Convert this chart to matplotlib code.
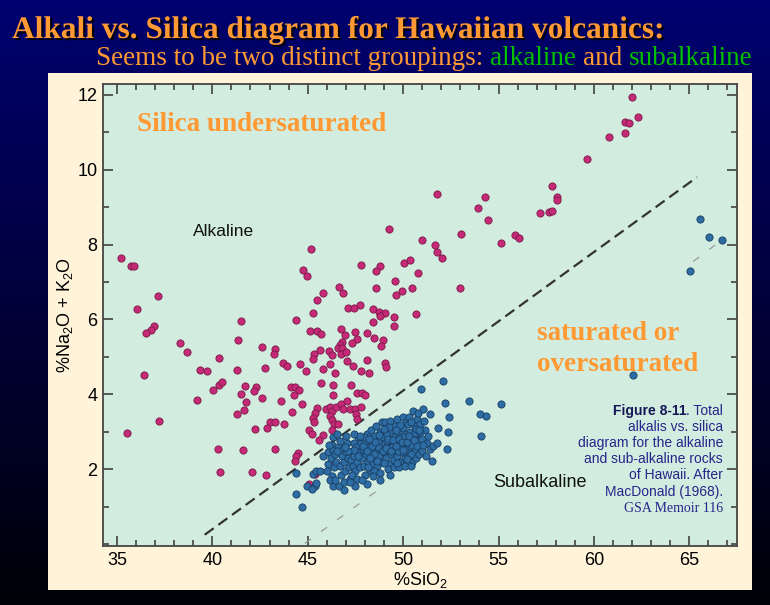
import numpy as np
import matplotlib
matplotlib.use("Agg")
import matplotlib.pyplot as plt
import matplotlib.patheffects as pe
from matplotlib.patches import Rectangle
from matplotlib.colors import LinearSegmentedColormap
from matplotlib.ticker import MultipleLocator

plt.rcParams['mathtext.fontset'] = 'custom'
plt.rcParams['mathtext.rm'] = 'Liberation Sans'
plt.rcParams['mathtext.it'] = 'Liberation Sans:italic'
plt.rcParams['mathtext.bf'] = 'Liberation Sans:bold'
plt.rcParams['font.family'] = ['Liberation Sans', 'DejaVu Sans']

# ---------------- data ----------------
alkaline_pts = [
    (35.23, 7.65), (35.75, 7.43), (35.89, 7.42), (37.15, 6.63), (36.05, 6.29), (36.92, 5.82),
    (36.80, 5.72), (36.54, 5.65), (41.51, 5.96), (38.29, 5.38), (38.69, 5.14), (41.36, 5.46),
    (42.58, 5.27), (40.36, 4.98), (39.35, 4.65), (39.72, 4.63), (41.27, 4.65), (36.43, 4.51),
    (40.36, 4.26), (40.52, 4.32), (40.05, 4.13), (41.72, 4.22), (42.27, 4.19), (42.20, 4.09),
    (41.50, 4.02), (42.58, 3.91), (39.19, 3.84), (41.76, 3.79), (41.67, 3.58), (41.29, 3.47),
    (37.22, 3.28), (42.23, 3.08), (35.54, 2.98), (40.29, 2.54), (41.60, 2.52), (40.41, 1.92),
    (42.09, 1.92),
    (45.17, 7.89), (44.77, 7.31), (44.98, 7.16), (47.79, 7.46), (48.78, 7.42), (48.58, 7.29),
    (49.57, 7.03), (46.65, 6.88), (46.83, 6.70), (45.81, 6.70), (45.50, 6.51), (48.56, 6.84),
    (49.61, 6.65), (45.29, 6.17), (44.36, 5.99), (47.09, 6.30), (47.40, 6.31), (47.75, 6.40),
    (48.40, 6.27), (48.73, 6.21), (49.05, 6.18), (48.80, 6.09), (48.40, 5.94), (49.54, 6.06),
    (49.54, 5.82), (45.13, 5.70), (45.50, 5.70), (45.67, 5.61), (46.72, 5.74), (46.93, 5.59),
    (47.47, 5.67), (47.56, 5.48), (48.09, 5.63), (48.45, 5.50), (48.94, 5.46), (48.84, 5.30),
    (47.33, 5.36), (46.81, 5.40), (46.71, 5.32), (46.57, 5.24), (46.81, 5.25), (46.74, 5.07),
    (46.99, 5.12), (46.13, 5.15), (46.27, 5.04), (45.62, 5.19), (45.34, 5.09), (45.27, 4.94),
    (43.28, 5.20), (43.21, 5.09), (43.70, 4.83), (43.89, 4.75), (44.59, 4.80), (44.89, 4.62),
    (42.74, 4.70), (45.78, 4.68), (46.18, 4.81), (46.43, 4.58), (47.05, 4.89), (47.39, 4.76),
    (48.09, 4.93), (47.77, 4.63), (48.23, 4.57), (49.05, 4.84), (49.10, 4.72), (45.68, 4.30),
    (46.30, 4.25), (47.26, 4.26), (44.10, 4.20), (44.33, 4.21), (44.56, 4.11), (44.26, 3.97),
    (46.30, 3.98), (47.56, 4.03), (47.82, 4.03), (48.00, 3.99), (43.61, 3.82), (44.68, 3.73),
    (44.19, 3.54), (45.48, 3.64), (45.38, 3.51), (45.29, 3.38), (45.34, 3.27), (45.95, 3.62),
    (46.16, 3.66), (46.29, 3.56), (46.50, 3.67), (46.74, 3.73), (46.83, 3.60), (47.07, 3.82),
    (47.21, 3.60), (47.47, 3.60), (47.54, 3.47), (47.79, 3.66), (47.56, 3.33), (46.16, 3.42),
    (46.29, 3.31), (46.39, 3.22), (46.60, 3.22), (43.02, 3.27), (43.28, 3.27), (43.74, 3.22),
    (42.88, 3.09), (45.08, 3.05), (46.25, 3.06),
    (43.30, 2.53), (45.82, 2.91), (45.60, 2.79), (44.47, 2.44), (44.38, 2.35), (45.25, 2.95),
    (44.33, 2.21), (42.79, 1.85), (45.38, 1.86), (45.06, 1.61), (46.22, 2.13),
    (61.99, 11.94), (62.29, 11.41), (61.62, 11.27), (61.85, 11.25), (61.62, 10.98), (60.80, 10.87),
    (59.65, 10.28), (57.78, 9.57), (58.08, 9.27), (58.08, 9.20), (57.17, 8.85), (57.64, 8.87),
    (57.82, 8.90), (51.75, 9.36), (54.29, 9.27), (53.94, 8.99), (54.43, 8.65), (53.05, 8.28),
    (55.89, 8.27), (56.09, 8.19), (55.11, 8.03), (51.00, 8.12), (51.65, 7.99), (51.75, 7.79),
    (52.05, 7.65), (50.04, 7.50), (50.36, 7.58), (50.76, 7.24), (49.92, 6.75), (50.46, 6.85),
    (52.98, 6.84), (49.27, 8.43), (50.67, 6.15),
]

subalkaline_pts = [
    (44.38, 1.90), (44.36, 1.34), (44.71, 0.98), (44.94, 1.54), (45.38, 1.54), (45.41, 1.63),
    (45.29, 1.86), (45.46, 1.95), (45.64, 1.95), (45.81, 2.35), (46.08, 2.13), (45.99, 1.95),
    (46.25, 1.81), (46.34, 1.54), (46.25, 2.66), (45.24, 1.48),
    (46.05, 2.45), (46.2, 2.3), (46.35, 2.52), (46.4, 2.05), (46.5, 2.2), (46.15, 1.7),
    (46.45, 1.72), (46.3, 2.85), (46.55, 2.95), (46.6, 2.6), (46.1, 2.65), (46.45, 2.4),
    (46.7, 2.1), (46.75, 1.85), (46.8, 2.35), (46.85, 2.55), (46.9, 2.2), (46.95, 1.95),
    (47.0, 2.45), (47.05, 2.7), (47.1, 2.3), (47.15, 2.05), (46.65, 1.55), (46.9, 1.65),
    (47.2, 1.75), (47.0, 2.9), (46.7, 2.75), (46.9, 1.45),
    (47.25, 2.25), (47.3, 2.5), (47.35, 2.1), (47.4, 2.7), (47.45, 2.35), (47.5, 1.95),
    (47.55, 2.6), (47.6, 2.2), (47.65, 2.85), (47.7, 2.45), (47.75, 2.05), (47.3, 1.85),
    (47.6, 1.75), (47.8, 2.7), (47.4, 2.95), (47.5, 1.55), (47.2, 1.65),
    (47.85, 2.3), (47.9, 2.55), (47.95, 2.1), (48.0, 2.75), (48.05, 2.4), (48.1, 2.95),
    (48.15, 2.2), (48.2, 2.6), (48.25, 1.95), (48.3, 2.8), (48.35, 2.45), (48.4, 2.15),
    (48.0, 1.85), (48.3, 3.05), (48.15, 2.05), (47.95, 2.85), (48.1, 1.6),
    (48.45, 2.65), (48.5, 2.3), (48.55, 2.9), (48.6, 2.5), (48.65, 2.1), (48.7, 2.75),
    (48.75, 2.35), (48.8, 3.0), (48.85, 2.55), (48.9, 2.2), (48.95, 2.85), (48.5, 1.95),
    (48.8, 1.9), (48.6, 3.15), (48.45, 2.4), (48.9, 3.25), (48.7, 2.6), (48.8, 1.72),
    (49.0, 2.45), (49.05, 2.7), (49.1, 2.3), (49.15, 2.95), (49.2, 2.55), (49.25, 2.15),
    (49.3, 2.8), (49.35, 2.4), (49.4, 3.05), (49.45, 2.65), (49.5, 2.25), (49.55, 2.9),
    (49.6, 2.5), (49.05, 3.25), (49.3, 3.3), (49.2, 2.0), (49.5, 2.05), (49.4, 2.6),
    (49.15, 2.75), (49.55, 3.15), (49.3, 1.85),
    (49.65, 2.75), (49.7, 2.35), (49.75, 3.0), (49.8, 2.6), (49.85, 2.2), (49.9, 2.85),
    (49.95, 2.45), (50.0, 3.1), (50.05, 2.7), (50.1, 2.3), (50.15, 2.95), (50.2, 2.55),
    (49.7, 3.35), (50.0, 3.4), (49.8, 2.05), (50.1, 2.1), (49.9, 2.6), (50.05, 2.85),
    (49.75, 2.5), (50.15, 3.25),
    (50.25, 2.75), (50.3, 2.35), (50.35, 3.0), (50.4, 2.6), (50.45, 2.2), (50.5, 2.85),
    (50.55, 2.45), (50.6, 3.15), (50.65, 2.65), (50.7, 2.3), (50.75, 2.95), (50.3, 3.4),
    (50.5, 3.55), (50.4, 2.1), (50.6, 2.5), (50.25, 3.2), (50.8, 2.75),
    (50.44, 2.66), (50.53, 2.84), (50.62, 2.97), (50.71, 3.33), (50.71, 2.62), (50.79, 3.51),
    (50.88, 3.20), (50.97, 2.80), (51.05, 3.60), (51.14, 3.06), (51.23, 2.71), (51.40, 3.47),
    (51.40, 2.55), (51.58, 2.62), (51.75, 2.71), (51.81, 3.11), (52.28, 2.55), (52.33, 3.00),
    (52.42, 3.39), (52.10, 4.36), (50.93, 4.14), (52.19, 3.76), (51.54, 2.23), (50.85, 2.4),
    (51.0, 2.5), (51.1, 3.3), (51.3, 2.9), (50.9, 3.0), (51.2, 2.35),
    # extra dense core
    (48.35, 2.62), (48.55, 2.72), (48.72, 2.92), (48.92, 2.48), (49.08, 2.58), (49.22, 2.82),
    (49.38, 2.48), (49.48, 2.78), (49.62, 2.62), (49.78, 2.82), (49.92, 2.72), (50.02, 2.52),
    (50.18, 2.72), (50.32, 2.88), (50.42, 2.42), (50.58, 2.78), (50.68, 3.08), (49.85, 3.18),
    (49.62, 3.05), (49.28, 3.12), (48.98, 3.08), (50.42, 3.25), (50.82, 3.05), (51.02, 2.65),
    (47.62, 2.35), (47.88, 2.62), (48.12, 2.5), (48.28, 2.3), (47.42, 2.52), (47.12, 2.5),
    (48.62, 2.22), (49.02, 2.18), (49.68, 2.18), (50.22, 2.28), (48.42, 1.82), (47.85, 1.72),
    (46.95, 2.6), (46.55, 2.48), (47.72, 2.9), (48.22, 2.82),
    (53.47, 3.81), (55.11, 3.73), (54.02, 3.48), (54.32, 3.42), (54.08, 2.88), (62.06, 4.52),
    (65.03, 7.29), (65.56, 8.69), (66.03, 8.20), (66.72, 8.11),
]

alk_x = [p[0] for p in alkaline_pts]
alk_y = [p[1] for p in alkaline_pts]
sub_x = [p[0] for p in subalkaline_pts]
sub_y = [p[1] for p in subalkaline_pts]

divider_x = [39.6, 65.4]
divider_y = [0.25, 9.80]
gray_lo_x = [44.85, 48.7]
gray_lo_y = [0.02, 1.45]
gray_hi_x = [65.2, 66.7]
gray_hi_y = [7.55, 8.12]

x_ticks = [35, 40, 45, 50, 55, 60, 65]
y_ticks = [2, 4, 6, 8, 10, 12]

W, H = 770, 605
fig = plt.figure(figsize=(W / 100, H / 100), dpi=100)

# dark gradient slide background
bg = fig.add_axes([0, 0, 1, 1], zorder=-10)
grad = np.linspace(0, 1, 256).reshape(-1, 1)
cmap = LinearSegmentedColormap.from_list('bg', ['#000070', '#00003a', '#000008'])
bg.imshow(grad, aspect='auto', cmap=cmap, extent=[0, 1, 0, 1], origin='upper')
bg.axis('off')

# cream panel
panel = Rectangle((48 / W, 1 - 590 / H), (752 - 48) / W, (590 - 73) / H,
                  transform=fig.transFigure, facecolor='#FFF4DA', edgecolor='none', zorder=-5)
fig.add_artist(panel)

ax = fig.add_axes([103 / W, 1 - 546 / H, (737 - 103) / W, (546 - 84) / H])
ax.set_facecolor('#D2EDDF')
ax.set_xlim(34.27, 67.5)
ax.set_ylim(-0.05, 12.29)

ax.plot(divider_x, divider_y, color='#333333', lw=1.6, dashes=(5, 2.6), zorder=2)
ax.plot(gray_lo_x, gray_lo_y, color='#9a9a9a', lw=0.9, dashes=(6, 10), zorder=2)
ax.plot(gray_hi_x, gray_hi_y, color='#9a9a9a', lw=0.9, dashes=(6, 10), zorder=2)

ax.scatter(alk_x, alk_y, s=27, color='#C42A76', edgecolors='#7A1848', linewidths=0.6, zorder=3)
ax.scatter(sub_x, sub_y, s=27, color='#2E6DA4', edgecolors='#173D63', linewidths=0.6, zorder=4)

ax.set_xticks(x_ticks)
ax.set_yticks(y_ticks)
ax.xaxis.set_minor_locator(MultipleLocator(1))
ax.yaxis.set_minor_locator(MultipleLocator(1))
ax.tick_params(which='both', direction='in', top=True, right=True, color='#333333', width=1.1)
ax.tick_params(which='major', length=7, labelsize=13, pad=4)
ax.tick_params(which='minor', length=4)
for sp in ax.spines.values():
    sp.set_color('#444444')
    sp.set_linewidth(1.3)

ax.set_xlabel('%SiO$_2$', fontsize=13, labelpad=1)
ax.set_ylabel('%Na$_2$O + K$_2$O', fontsize=13, labelpad=2)

orange = '#FF9933'
ax.text(36.05, 11.2, 'Silica undersaturated', family='Liberation Serif', weight='bold',
        fontsize=19.5, color=orange, va='center', ha='left')
ax.text(38.98, 8.35, 'Alkaline', fontsize=12.5, color='#111111', va='center', ha='left')
ax.text(57.0, 5.62, 'saturated or', family='Liberation Serif', weight='bold',
        fontsize=19.5, color=orange, va='center', ha='left')
ax.text(57.0, 4.79, 'oversaturated', family='Liberation Serif', weight='bold',
        fontsize=19.5, color=orange, va='center', ha='left')
ax.text(54.71, 1.65, 'Subalkaline', fontsize=13, color='#111111', va='center', ha='left')

# caption
cap_col = '#25258A'
cap_x = 66.77
cap_lines = ['alkalis vs. silica', 'diagram for the alkaline', 'and sub-alkaline rocks',
             'of Hawaii. After', 'MacDonald (1968).']
cap_ys = [3.126, 2.697, 2.268, 1.839, 1.383]
narrow = ['Liberation Sans Narrow', 'Liberation Sans']
for s, yy in zip(cap_lines, cap_ys):
    ax.text(cap_x, yy, s, family=narrow, fontsize=10, color=cap_col, ha='right', va='center')
ax.text(cap_x, 0.954, 'GSA Memoir 116', family='Liberation Serif', fontsize=10,
        color=cap_col, ha='right', va='center')
t_total = ax.text(cap_x, 3.555, '. Total', family=narrow, fontsize=10, color=cap_col,
                  ha='right', va='center')

# title
fig.text(12 / W, 1 - 38 / H, 'Alkali vs. Silica diagram for Hawaiian volcanics:',
         family='Liberation Serif', weight='bold', fontsize=22.6, color=orange,
         ha='left', va='baseline',
         path_effects=[pe.withSimplePatchShadow(offset=(1.5, -1.5), shadow_rgbFace='black', alpha=0.9)])

fig.canvas.draw()
r = fig.canvas.get_renderer()
bb = t_total.get_window_extent(r)
x0d = ax.transData.inverted().transform((bb.x0, bb.y0))[0]
ax.text(x0d, 3.555, 'Figure 8-11', family=narrow, weight='bold', fontsize=10,
        color='#161655', ha='right', va='center')

# subtitle composed of coloured pieces
green = '#00C000'
pieces = [('Seems to be two distinct groupings:', orange), ('alkaline', green),
          ('and', orange), ('subalkaline', green)]
sub_fs = 19.5
probe1 = fig.text(0, 0, 'a b', family='Liberation Serif', fontsize=sub_fs)
probe2 = fig.text(0, 0, 'ab', family='Liberation Serif', fontsize=sub_fs)
sp_w = probe1.get_window_extent(r).width - probe2.get_window_extent(r).width
probe1.remove(); probe2.remove()
xpix = 96
ybase = 1 - 65 / H
for txt, col in pieces:
    t = fig.text(xpix / W, ybase, txt, family='Liberation Serif', fontsize=sub_fs,
                 color=col, ha='left', va='baseline')
    w = t.get_window_extent(r).width
    xpix += w + sp_w

fig.savefig('out.png', dpi=100)
